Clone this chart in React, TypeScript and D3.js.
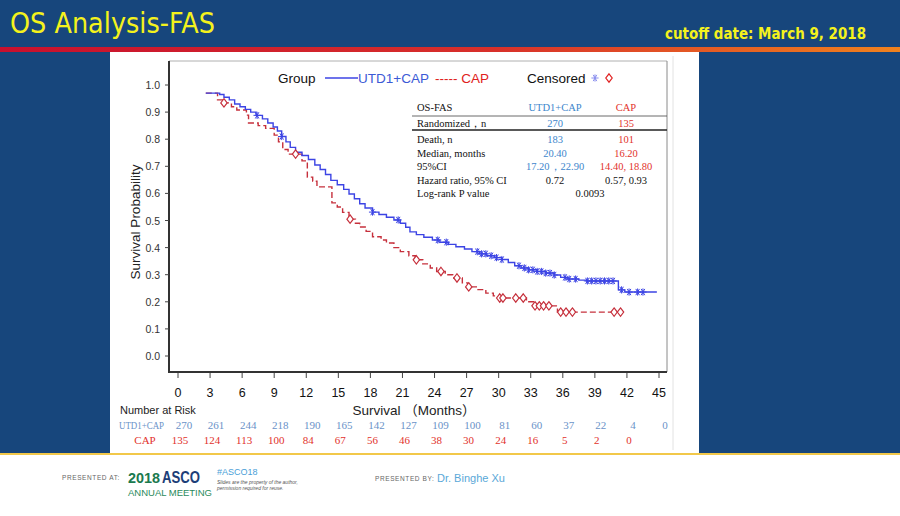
import React from "react";
import * as d3 from "d3";

// Kaplan-Meier step points [month, survival]
const utdSteps: [number, number][] = [
  [2.6, 0.97], [3.9, 0.965], [4.3, 0.955], [4.8, 0.945], [5.3, 0.93], [5.8, 0.92],
  [6.3, 0.91], [6.8, 0.9], [7.3, 0.888], [7.9, 0.875], [8.4, 0.86], [8.9, 0.845],
  [9.3, 0.83], [9.7, 0.81], [10.1, 0.79], [10.5, 0.77], [11.0, 0.752], [11.6, 0.74],
  [12.2, 0.725], [12.8, 0.705], [13.3, 0.688], [13.8, 0.67], [14.3, 0.648], [14.9, 0.632],
  [15.5, 0.615], [16.0, 0.598], [16.5, 0.58], [17.0, 0.562], [17.5, 0.546], [18.2, 0.531],
  [18.8, 0.522], [19.5, 0.512], [20.2, 0.502], [20.8, 0.49], [21.3, 0.475], [21.7, 0.458],
  [22.3, 0.448], [23.0, 0.438], [23.8, 0.428], [24.5, 0.42], [25.3, 0.412], [26.0, 0.403],
  [26.8, 0.395], [27.5, 0.385], [28.2, 0.377], [28.9, 0.37], [29.6, 0.363], [30.3, 0.356],
  [30.9, 0.345], [31.5, 0.333], [32.1, 0.325], [32.8, 0.318], [33.6, 0.312], [34.4, 0.306],
  [35.2, 0.299], [35.8, 0.29], [36.4, 0.284], [37.5, 0.28], [38.2, 0.277], [41.2, 0.244],
  [41.8, 0.236], [44.8, 0.236],
];
const capSteps: [number, number][] = [
  [2.6, 0.97], [3.7, 0.945], [4.3, 0.934], [5.0, 0.92], [5.5, 0.908], [6.4, 0.889],
  [6.6, 0.86], [7.5, 0.85], [8.2, 0.84], [9.0, 0.815], [9.4, 0.79], [9.8, 0.762],
  [10.3, 0.745], [11.6, 0.72], [12.1, 0.66], [12.6, 0.645], [13.0, 0.624], [14.4, 0.565],
  [14.9, 0.55], [15.4, 0.53], [16.0, 0.505], [16.6, 0.49], [17.0, 0.476], [17.6, 0.46],
  [18.2, 0.44], [19.0, 0.428], [19.5, 0.417], [20.2, 0.4], [20.8, 0.385], [21.6, 0.37],
  [22.2, 0.355], [22.9, 0.34], [23.6, 0.325], [24.2, 0.312], [25.0, 0.3], [25.7, 0.288],
  [26.6, 0.27], [27.1, 0.255], [28.0, 0.245], [28.8, 0.232], [29.5, 0.222], [30.1, 0.214],
  [32.6, 0.2], [33.4, 0.185], [35.5, 0.162], [41.6, 0.162],
];

// censoring times (months)
const utdCensored = [
  7.4, 9.7, 18.2, 20.6, 24.3, 25.1, 28.0, 28.4, 28.8, 29.3, 29.8, 30.3, 31.9, 32.4, 32.8,
  33.2, 33.6, 34.0, 34.4, 34.8, 35.2, 36.2, 36.6, 37.2, 38.3, 38.7, 39.1, 39.5, 39.9, 40.3,
  40.7, 41.5, 42.2, 43.0, 43.5,
];
const capCensored = [
  4.3, 11.0, 16.1, 22.3, 24.6, 26.1, 27.2, 30.1, 30.4, 31.6, 32.3, 33.4, 33.8, 34.2, 34.7,
  35.8, 36.3, 36.9, 40.8, 41.4,
];

const xTicks = [0, 3, 6, 9, 12, 15, 18, 21, 24, 27, 30, 33, 36, 39, 42, 45];
const yTicks = [0, 0.1, 0.2, 0.3, 0.4, 0.5, 0.6, 0.7, 0.8, 0.9, 1.0];

const utdAtRisk = [270, 261, 244, 218, 190, 165, 142, 127, 109, 100, 81, 60, 37, 22, 4, 0];
const capAtRisk = [135, 124, 113, 100, 84, 67, 56, 46, 38, 30, 24, 16, 5, 2, 0];

const tableRows = [
  { label: "Death, n", utd: "183", cap: "101" },
  { label: "Median, months", utd: "20.40", cap: "16.20" },
  { label: "95%CI", utd: "17.20，22.90", cap: "14.40, 18.80" },
];

const BLUE_LINE = "#3c44e4";
const RED_LINE = "#c6303c";
const TBL_BLUE = "#3d86cc";
const TBL_RED = "#e2322c";
const SANS = "'Liberation Sans', Arial, 'Noto Sans CJK SC', sans-serif";
const SERIF = "'Liberation Serif', 'Times New Roman', serif";

const x = d3.scaleLinear().domain([0, 45]).range([178, 659]);
const y = d3.scaleLinear().domain([0, 1]).range([356, 85]);

const stepLine = d3
  .line<[number, number]>()
  .x((d) => x(d[0]))
  .y((d) => y(d[1]))
  .curve(d3.curveStepAfter);

function survAt(steps: [number, number][], t: number) {
  let s = steps[0][1];
  for (const p of steps) if (p[0] <= t) s = p[1];
  return s;
}

const Asterisk = ({ cx, cy }: { cx: number; cy: number }) => {
  const r = 3.6;
  return (
    <g stroke={BLUE_LINE} strokeWidth={1}>
      {[0, 60, 120].map((a) => {
        const rad = (a * Math.PI) / 180;
        return (
          <line key={a} x1={cx - r * Math.cos(rad)} y1={cy - r * Math.sin(rad)}
            x2={cx + r * Math.cos(rad)} y2={cy + r * Math.sin(rad)} />
        );
      })}
      <line x1={cx} y1={cy - r} x2={cx} y2={cy + r} />
    </g>
  );
};

const Diamond = ({ cx, cy, color = RED_LINE }: { cx: number; cy: number; color?: string }) => (
  <path d={`M${cx},${cy - 4.2}L${cx + 3.2},${cy}L${cx},${cy + 4.2}L${cx - 3.2},${cy}Z`}
    fill="white" stroke={color} strokeWidth={1.2} />
);

export default function App() {
  return (
    <svg width={900} height={516} style={{ position: "absolute", left: 0, top: 0 }}>
      <defs>
        <linearGradient id="band" x1="0" x2="1" y1="0" y2="0">
          <stop offset="0%" stopColor="#c8102e" />
          <stop offset="55%" stopColor="#d8302a" />
          <stop offset="100%" stopColor="#f0821e" />
        </linearGradient>
      </defs>
      {/* slide background */}
      <rect x={0} y={0} width={900} height={516} fill="#17467c" />
      <rect x={0} y={47} width={900} height={5} fill="url(#band)" />
      <rect x={110} y={52} width={589} height={401} fill="white" />
      <rect x={0} y={453} width={900} height={63} fill="white" />
      <rect x={0} y={453} width={900} height={2} fill="#f2c84a" />

      <text x={10} y={33} fill="#f4f21c" fontFamily="'DejaVu Sans', Verdana, sans-serif"
        fontSize={28} textLength={205} lengthAdjust="spacingAndGlyphs">OS Analysis-FAS</text>
      <text x={866} y={39} fill="#f4f21c" fontFamily="'DejaVu Sans', Verdana, sans-serif"
        fontSize={15} fontWeight="bold" textAnchor="end" textLength={201}
        lengthAdjust="spacingAndGlyphs">cutoff date: March 9, 2018</text>

      {/* plot frame */}
      <line x1={169} y1={61} x2={667} y2={61} stroke="#b0b0b0" strokeWidth={1} />
      <line x1={667} y1={61} x2={667} y2={372} stroke="#8a8a8a" strokeWidth={1} />
      <line x1={673} y1={56} x2={673} y2={450} stroke="#e2e2e2" strokeWidth={1} />
      <line x1={169} y1={61} x2={169} y2={373} stroke="#333" strokeWidth={2} />
      <line x1={168} y1={372} x2={667} y2={372} stroke="#333" strokeWidth={2} />

      {/* y axis */}
      {yTicks.map((t) => (
        <g key={t}>
          <line x1={165} x2={169} y1={y(t)} y2={y(t)} stroke="#444" strokeWidth={1} />
          <text x={160} y={y(t) + 4} textAnchor="end" fontFamily={SANS} fontSize={10.5}
            fill="#333">{t.toFixed(1)}</text>
        </g>
      ))}
      <text transform="translate(140,222) rotate(-90)" textAnchor="middle" fontFamily={SANS}
        fontSize={13.5} fill="#222">Survival Probability</text>

      {/* x axis */}
      {xTicks.map((t) => (
        <g key={t}>
          <line x1={x(t)} x2={x(t)} y1={373} y2={378} stroke="#444" strokeWidth={1} />
          <text x={x(t)} y={397} textAnchor="middle" fontFamily={SANS} fontSize={12.5}
            fill="#111">{t}</text>
        </g>
      ))}
      <text x={414} y={415} textAnchor="middle" fontFamily={SANS} fontSize={13.5}
        fill="#222">Survival （Months）</text>

      {/* curves */}
      <path d={stepLine(capSteps) || ""} fill="none" stroke={RED_LINE} strokeWidth={1.4}
        strokeDasharray="6,3" />
      <path d={stepLine(utdSteps) || ""} fill="none" stroke={BLUE_LINE} strokeWidth={1.4} />
      {capCensored.map((t, i) => (
        <Diamond key={i} cx={x(t)} cy={y(survAt(capSteps, t))} />
      ))}
      {utdCensored.map((t, i) => (
        <Asterisk key={i} cx={x(t)} cy={y(survAt(utdSteps, t))} />
      ))}

      {/* legend */}
      <text x={278} y={83} fontFamily={SANS} fontSize={13.5} fill="#111">Group</text>
      <line x1={325} x2={358} y1={78} y2={78} stroke={BLUE_LINE} strokeWidth={1.3} />
      <text x={358} y={83} fontFamily={SANS} fontSize={13.5} fill="#3c5ad6">UTD1+CAP</text>
      <text x={435} y={83} fontFamily={SANS} fontSize={13.5} fill="#e02020">----- CAP</text>
      <text x={527} y={83} fontFamily={SANS} fontSize={13.5} fill="#111">Censored</text>
      <g opacity={0.6}><Asterisk cx={595} cy={78} /></g>
      <Diamond cx={609} cy={78} color="#e02020" />

      {/* summary table */}
      <g fontFamily={SERIF} fontSize={10.5} fill="#111">
        <text x={417} y={111}>OS-FAS</text>
        <text x={555} y={111} textAnchor="middle" fill={TBL_BLUE}>UTD1+CAP</text>
        <text x={626} y={111} textAnchor="middle" fill={TBL_RED}>CAP</text>
        <line x1={412} x2={667} y1={116} y2={116} stroke="#444" strokeWidth={0.8} />
        <text x={417} y={127}>Randomized，n</text>
        <text x={555} y={127} textAnchor="middle" fill={TBL_BLUE}>270</text>
        <text x={626} y={127} textAnchor="middle" fill={TBL_RED}>135</text>
        <line x1={412} x2={667} y1={130} y2={130} stroke="#222" strokeWidth={1.6} />
        {tableRows.map((r, i) => (
          <g key={r.label}>
            <text x={417} y={143 + i * 13.5}>{r.label}</text>
            <text x={555} y={143 + i * 13.5} textAnchor="middle" fill={TBL_BLUE}>{r.utd}</text>
            <text x={626} y={143 + i * 13.5} textAnchor="middle" fill={TBL_RED}>{r.cap}</text>
          </g>
        ))}
        <text x={417} y={184}>Hazard ratio, 95% CI</text>
        <text x={555} y={184} textAnchor="middle">0.72</text>
        <text x={626} y={184} textAnchor="middle">0.57, 0.93</text>
        <text x={417} y={197}>Log-rank P value</text>
        <text x={590} y={197} textAnchor="middle">0.0093</text>
      </g>

      {/* number at risk */}
      <text x={120} y={414} fontFamily={SANS} fontSize={11} fill="#222">Number at Risk</text>
      <g fontFamily={SERIF} fontSize={11}>
        <text x={119} y={429} fill="#6a92c8" textLength={45} lengthAdjust="spacingAndGlyphs">UTD1+CAP</text>
        {utdAtRisk.map((n, i) => (
          <text key={i} x={x(xTicks[i]) + 6} y={429} textAnchor="middle" fill="#6a92c8">{n}</text>
        ))}
        <text x={145} y={444} textAnchor="middle" fill={TBL_RED}>CAP</text>
        {capAtRisk.map((n, i) => (
          <text key={i} x={x(xTicks[i]) + 2} y={444} textAnchor="middle" fill={TBL_RED}>{n}</text>
        ))}
      </g>

      {/* footer */}
      <text x={62} y={480} fontFamily={SANS} fontSize={6.5} fill="#666" letterSpacing={0.6}>PRESENTED AT:</text>
      <text x={128} y={483} fontFamily={SANS} fontSize={15} fontWeight="bold" fill="#1b7a4e"
        textLength={32} lengthAdjust="spacingAndGlyphs">2018</text>
      <text x={162} y={483} fontFamily={SANS} fontSize={17} fontWeight="bold" fill="#1d3e78"
        textLength={38} lengthAdjust="spacingAndGlyphs">ASCO</text>
      <text x={128} y={496} fontFamily={SANS} fontSize={9} fill="#2a8a5c" textLength={84}
        lengthAdjust="spacingAndGlyphs">ANNUAL MEETING</text>
      <text x={217} y={475} fontFamily={SANS} fontSize={9} fill="#4aa0d8">#ASCO18</text>
      <text x={217} y={484} fontFamily={SANS} fontSize={5} fontStyle="italic" fill="#555">Slides are the property of the author,</text>
      <text x={217} y={490} fontFamily={SANS} fontSize={5} fontStyle="italic" fill="#555">permission required for reuse.</text>
      <text x={375} y={481} fontFamily={SANS} fontSize={6.5} fill="#666" letterSpacing={0.6}>PRESENTED BY:</text>
      <text x={437} y={482} fontFamily={SANS} fontSize={11} fill="#5aa8d8">Dr. Binghe Xu</text>
    </svg>
  );
}
